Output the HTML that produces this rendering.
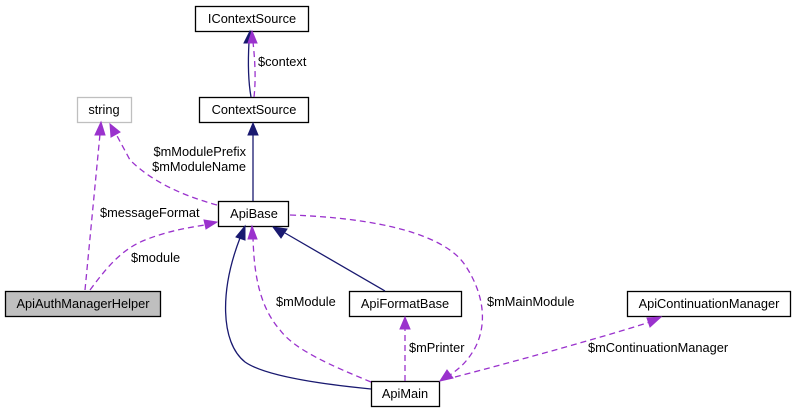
<!DOCTYPE html>
<html><head><meta charset="utf-8"><style>
html,body{margin:0;padding:0;background:#fff;}
svg{display:block;}
text{font-family:"Liberation Sans",sans-serif;font-size:12.8px;fill:#000;}
.b{fill:#fff;stroke:#000;stroke-width:1.3;}
.n{fill:none;stroke:#191970;stroke-width:1.3;}
.d{fill:none;stroke:#9a32cd;stroke-width:1.3;stroke-dasharray:6,4;}
.ah{fill:#191970;stroke:#191970;}
.ap{fill:#9a32cd;stroke:#9a32cd;}
</style></head><body>
<svg width="796" height="413" viewBox="0 0 796 413" xmlns="http://www.w3.org/2000/svg">
<rect class="b" x="195.5" y="6.5" width="113" height="25"/>
<text x="252" y="23" text-anchor="middle">IContextSource</text>
<rect class="b" x="199.5" y="97.5" width="109" height="25"/>
<text x="254" y="114" text-anchor="middle">ContextSource</text>
<rect x="77.5" y="97.5" width="54" height="25" fill="#fff" stroke="#bfbfbf" stroke-width="1.3"/>
<text x="104" y="114" text-anchor="middle">string</text>
<rect class="b" x="218.5" y="201.5" width="70" height="25"/>
<text x="254" y="218" text-anchor="middle">ApiBase</text>
<rect x="5.5" y="291.5" width="155" height="25" fill="#bfbfbf" stroke="#000" stroke-width="1.3"/>
<text x="83" y="308" text-anchor="middle">ApiAuthManagerHelper</text>
<rect class="b" x="349.5" y="291.5" width="112" height="25"/>
<text x="405" y="308" text-anchor="middle">ApiFormatBase</text>
<rect class="b" x="627.5" y="291.5" width="163" height="25"/>
<text x="709" y="308" text-anchor="middle">ApiContinuationManager</text>
<rect class="b" x="371.5" y="381.5" width="68" height="25"/>
<text x="405" y="398" text-anchor="middle">ApiMain</text>

<path class="n" d="M251,97 C248,80 248,60 249,42"/>
<polygon class="ah" points="244,43 250,31 254,43"/>
<path class="d" d="M254,97 C256,80 255,60 253,42"/>
<polygon class="ap" points="248,43 252,31 257,43"/>
<text x="258" y="66">$context</text>

<path class="n" d="M253,201 L253,134"/>
<polygon class="ah" points="248,135 253,123 258,135"/>

<path class="d" d="M217,205 C180,195 150,180 130,160 L116,134"/>
<polygon class="ap" points="111,137 110,124 120,132"/>
<text x="246" y="156" text-anchor="end">$mModulePrefix</text>
<text x="246" y="171" text-anchor="end">$mModuleName</text>

<path class="d" d="M85,290 L100,134"/>
<polygon class="ap" points="95,135 101,122 105,135"/>
<text x="100" y="217">$messageFormat</text>

<path class="d" d="M90,290 C105,270 120,250 145,240 C165,232 185,228 205,225"/>
<polygon class="ap" points="204,220 217,222 206,229"/>
<text x="131" y="262">$module</text>

<path class="n" d="M371,389 C320,384 265,376 245,362 C220,342 220,290 240,238"/>
<polygon class="ah" points="236,237 245,226 245,240"/>

<path class="d" d="M371,382 C330,365 295,350 280,330 C258,305 254,270 253,238"/>
<polygon class="ap" points="248,239 252,226 257,239"/>
<text x="276" y="306">$mModule</text>

<path class="n" d="M385,291 L285,233"/>
<polygon class="ah" points="281,238 273,227 287,229"/>

<path class="d" d="M405,381 L405,328"/>
<polygon class="ap" points="400,329 405,317 410,329"/>
<text x="409" y="352">$mPrinter</text>

<path class="d" d="M290,215 C380,218 445,235 465,265 C485,295 487,325 475,348 C467,362 460,368 450,375"/>
<polygon class="ap" points="447,370 440,381 453,378"/>
<text x="487" y="306">$mMainModule</text>

<path class="d" d="M455,377 C520,360 600,338 650,322"/>
<polygon class="ap" points="647,318 661,317 650,327"/>
<text x="588" y="352">$mContinuationManager</text>
</svg>
</body></html>
